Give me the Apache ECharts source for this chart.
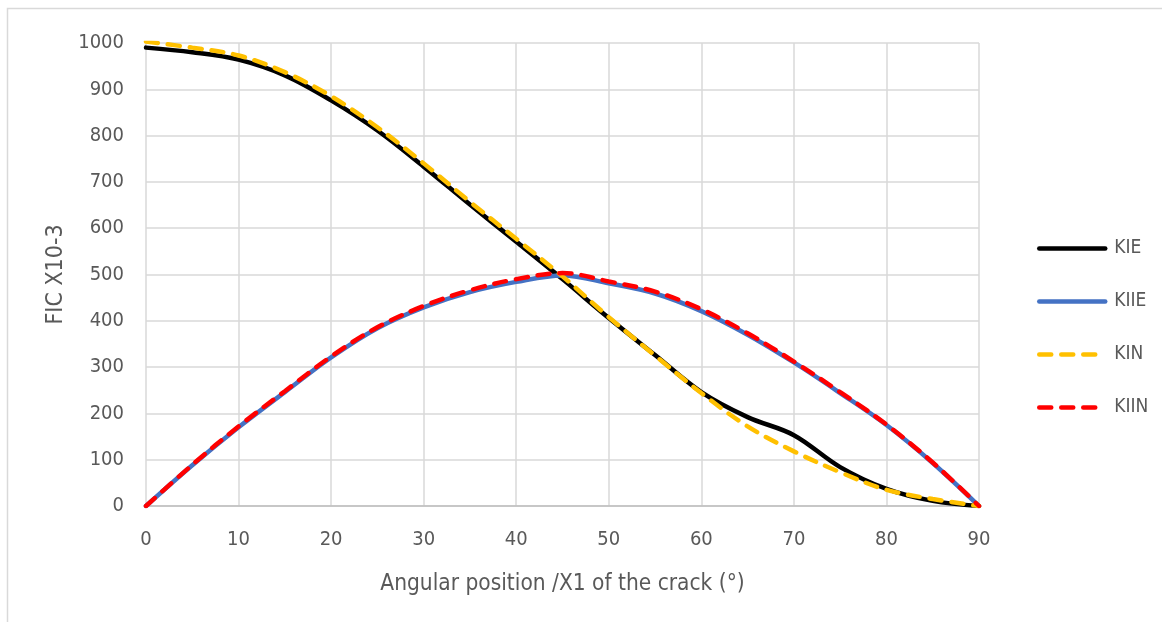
<!DOCTYPE html>
<html>
<head>
<meta charset="utf-8">
<script src="https://cdn.jsdelivr.net/npm/echarts@6/dist/echarts.min.js"></script>
<style>
  html, body { margin: 0; padding: 0; background: #ffffff; }
  #chart { width: 1162px; height: 622px; }
</style>
</head>
<body>
<div id="chart"></div>
<script>
// Angular positions (degrees) along the crack
const angles = [0, 5, 10, 15, 20, 25, 30, 35, 40, 45, 50, 55, 60, 65, 70, 75, 80, 85, 90];

// Stress intensity factors, x10^-3
const kIE  = [990, 980, 964, 930, 876, 811, 733, 651, 571, 490, 406, 326, 246, 192, 153, 84, 37, 11, 0];
const kIIE = [0, 88, 170, 246, 321, 384, 429, 462, 484, 498, 481, 459, 421, 370, 310, 244, 175, 93, 0];
const kIN  = [1003, 990, 973, 937, 885, 818, 740, 657, 577, 496, 408, 325, 244, 172, 118, 73, 35, 15, 0];
const kIIN = [0, 89, 172, 248, 323, 386, 432, 466, 490, 503, 485, 463, 425, 373, 312, 246, 176, 94, 0];

const seriesNames = ['KIE', 'KIIE', 'KIN', 'KIIN'];
const xTicks = [0, 10, 20, 30, 40, 50, 60, 70, 80, 90];
const yTicks = [0, 100, 200, 300, 400, 500, 600, 700, 800, 900, 1000];

const FONT = "'Liberation Sans Narrow', 'DejaVu Sans Condensed', 'Open Sans', sans-serif";
const TEXT = '#595959';
const GRID = '#d9d9d9';

const pairs = (ys) => angles.map((a, i) => [a, ys[i]]);

function lineSeries(name, ys, color, dashed) {
  return {
    name: name,
    type: 'line',
    data: pairs(ys),
    smooth: 0.35,
    symbol: 'none',
    lineStyle: {
      color: color,
      width: 4.5,
      type: dashed ? [12, 10] : 'solid',
      cap: 'round'
    },
    itemStyle: { color: color },
    emphasis: { disabled: true }
  };
}

const chart = echarts.init(document.getElementById('chart'), null, { renderer: 'canvas' });

chart.setOption({
  animation: false,
  backgroundColor: '#ffffff',
  textStyle: { fontFamily: FONT },
  graphic: [{
    type: 'rect',
    shape: { x: 7.5, y: 8.5, width: 1200, height: 700 },
    style: { fill: 'none', stroke: GRID, lineWidth: 1.5 },
    silent: true,
    z: -10
  }],
  grid: { left: 146, right: 183, top: 43, bottom: 116 },
  legend: {
    orient: 'vertical',
    left: 1037,
    top: 239,
    itemWidth: 66,
    itemHeight: 14,
    itemGap: 34,
    padding: 0,
    data: seriesNames,
    itemStyle: { opacity: 0 },
    lineStyle: { width: 4.5 },
    textStyle: { fontFamily: FONT, fontSize: 19, color: TEXT, padding: [0, 0, 0, 4] }
  },
  xAxis: {
    type: 'value',
    min: xTicks[0],
    max: xTicks[xTicks.length - 1],
    interval: 10,
    name: 'Angular position /X1 of the crack (°)',
    nameLocation: 'middle',
    nameGap: 67,
    nameTextStyle: { fontFamily: FONT, fontSize: 22.5, color: TEXT },
    axisLine: { show: true, lineStyle: { color: '#bfbfbf', width: 1.5 } },
    axisTick: { show: false },
    axisLabel: { fontFamily: FONT, fontSize: 20, color: TEXT, margin: 24, formatter: (v) => String(v) },
    splitLine: { show: true, lineStyle: { color: GRID, width: 1.5 } }
  },
  yAxis: {
    type: 'value',
    min: yTicks[0],
    max: yTicks[yTicks.length - 1],
    interval: 100,
    name: 'FIC X10-3',
    nameLocation: 'middle',
    nameGap: 77,
    nameTextStyle: { fontFamily: FONT, fontSize: 23, color: TEXT },
    axisLine: { show: false },
    axisTick: { show: false },
    axisLabel: { fontFamily: FONT, fontSize: 20, color: TEXT, margin: 22, formatter: (v) => String(v) },
    splitLine: { show: true, lineStyle: { color: GRID, width: 1.5 } }
  },
  series: [
    lineSeries('KIE', kIE, '#000000', false),
    lineSeries('KIIE', kIIE, '#4472C4', false),
    lineSeries('KIN', kIN, '#FFC000', true),
    lineSeries('KIIN', kIIN, '#FF0000', true)
  ]
});
</script>
</body>
</html>
